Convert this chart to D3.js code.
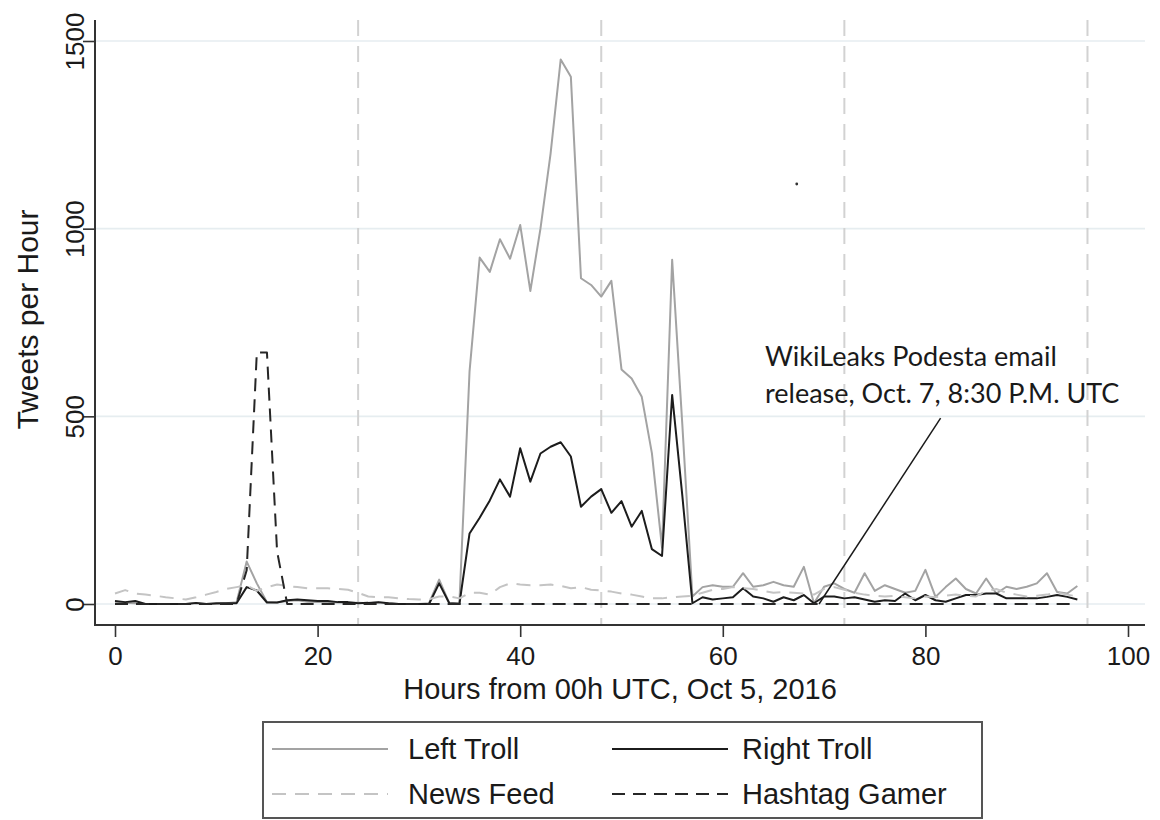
<!DOCTYPE html>
<html>
<head>
<meta charset="utf-8">
<script src="https://cdn.jsdelivr.net/npm/d3@7"></script>
<style>
  html, body { margin: 0; padding: 0; background: #fff; }
  svg { display: block; }
  text { font-family: "Liberation Sans", Arial, sans-serif; fill: #1a1a1a; }
</style>
</head>
<body>
<svg id="chart" width="1160" height="820"></svg>
<script>
// Hourly tweet counts, hour 0 = 00h UTC Oct 5, 2016
const hours = d3.range(0, 96);

const leftTroll = [
  2, 3, 2, 0, 0, 0, 0, 0, 2, 0, 0, 2, 5, 113, 55, 5, 4, 8, 10, 6,
  5, 5, 4, 3, 3, 2, 4, 2, 0, 0, 0, 2, 65, 2, 3, 620, 923, 885, 972, 920,
  1010, 834, 1000, 1200, 1451, 1405, 868, 850, 819, 861, 625, 601, 552, 402, 150, 917, 480, 20, 45, 50,
  46, 46, 82, 46, 50, 59, 50, 46, 99, 2, 46, 55, 40, 30, 82, 35, 50, 40, 30, 35,
  91, 19, 45, 68, 40, 28, 68, 28, 46, 40, 46, 55, 82, 32, 28, 48
];

const rightTroll = [
  8, 5, 8, 0, 0, 0, 0, 0, 3, 0, 2, 2, 2, 45, 36, 4, 4, 10, 12, 10,
  8, 8, 5, 5, 2, 3, 5, 2, 0, 0, 0, 0, 55, 2, 0, 188, 230, 276, 332, 286,
  415, 326, 401, 419, 431, 393, 259, 286, 306, 243, 274, 206, 248, 146, 128, 557, 290, 2, 18, 12,
  15, 18, 42, 20, 15, 6, 18, 10, 24, 2, 20, 20, 15, 18, 12, 6, 10, 8, 28, 10,
  24, 10, 6, 15, 24, 24, 28, 28, 15, 15, 15, 15, 19, 24, 19, 12
];

const newsFeed = [
  28, 37, 28, 25, 22, 18, 15, 12, 18, 25, 32, 40, 45, 50, 35, 45, 52, 48, 45, 42,
  42, 42, 40, 38, 30, 20, 18, 18, 15, 13, 12, 13, 20, 20, 15, 30, 30, 25, 45, 55,
  52, 50, 50, 52, 48, 42, 45, 38, 36, 33, 28, 25, 20, 15, 15, 18, 20, 22, 30, 38,
  40, 45, 42, 40, 35, 30, 32, 30, 28, 25, 40, 45, 38, 30, 25, 22, 20, 22, 18, 15,
  20, 18, 22, 25, 22, 20, 35, 40, 30, 25, 20, 22, 25, 30, 25, 20
];

const hashtagGamer = [
  0, 0, 0, 0, 0, 0, 0, 0, 0, 0, 0, 0, 0, 90, 670, 670, 140, 0, 0, 0,
  0, 0, 0, 0, 0, 0, 0, 0, 0, 0, 0, 0, 0, 0, 0, 0, 0, 0, 0, 0,
  0, 0, 0, 0, 0, 0, 0, 0, 0, 0, 0, 0, 0, 0, 0, 0, 0, 0, 0, 0,
  0, 0, 0, 0, 0, 0, 0, 0, 0, 0, 0, 0, 0, 0, 0, 0, 0, 0, 0, 0,
  0, 0, 0, 0, 0, 0, 0, 0, 0, 0, 0, 0, 0, 0, 0, 0
];

const xTicks = [0, 20, 40, 60, 80, 100];
const yTicks = [0, 500, 1000, 1500];
const dayMarks = [24, 48, 72, 96];

const seriesNames = ["Left Troll", "Right Troll", "News Feed", "Hashtag Gamer"];
const seriesValues = [leftTroll, rightTroll, newsFeed, hashtagGamer];

// Annotation: pointer from label to the release hour (Oct 7, 20:30 UTC)
const noteLines = ["WikiLeaks Podesta email", "release, Oct. 7, 8:30 P.M. UTC"];
const notePointer = [[81.5, 495], [69.5, 0]];
const strayDot = [67.3, 1119];

const styles = [
  { color: "#a3a3a3", dash: null },
  { color: "#1c1c1c", dash: null },
  { color: "#c4c4c4", dash: "14,9" },
  { color: "#262626", dash: "13,8" }
];

const svg = d3.select("#chart");

const x = d3.scaleLinear().domain([0, 100]).range([115, 1128]);
const y = d3.scaleLinear().domain([0, 1500]).range([604, 41]);

const axisLeftX = 95, axisBottomY = 625, plotTop = 20, plotRight = 1145;

// horizontal grid
svg.append("g").selectAll("line").data(yTicks).join("line")
  .attr("x1", axisLeftX).attr("x2", plotRight)
  .attr("y1", d => y(d)).attr("y2", d => y(d))
  .attr("stroke", "#e6edf0").attr("stroke-width", 1.6);

// day boundaries
svg.append("g").selectAll("line").data(dayMarks).join("line")
  .attr("x1", d => x(d)).attr("x2", d => x(d))
  .attr("y1", plotTop).attr("y2", axisBottomY)
  .attr("stroke", "#d2d2d2").attr("stroke-width", 2)
  .attr("stroke-dasharray", "16,10");

// series
const line = d3.line().x((d, i) => x(hours[i])).y(d => y(d));
seriesValues.forEach((vals, k) => {
  svg.append("path").datum(vals)
    .attr("d", line)
    .attr("fill", "none")
    .attr("stroke", styles[k].color)
    .attr("stroke-width", 2)
    .attr("stroke-linejoin", "round")
    .attr("stroke-dasharray", styles[k].dash);
});

// y axis
const yAxis = d3.axisLeft(y).tickValues(yTicks).tickFormat(d3.format("d"))
  .tickSize(12).tickSizeOuter(0).tickPadding(4);
const gy = svg.append("g").attr("transform", `translate(${axisLeftX},0)`).call(yAxis);
gy.select(".domain").remove();
gy.selectAll(".tick line").attr("stroke", "#333").attr("stroke-width", 1.6);
gy.selectAll(".tick text")
  .attr("x", 0).attr("dy", null)
  .attr("text-anchor", "middle")
  .attr("transform", "translate(-11,0) rotate(-90)")
  .attr("y", 0)
  .style("font-size", "26px")
  .attr("fill", "#1a1a1a");
svg.append("line").attr("x1", axisLeftX).attr("x2", axisLeftX)
  .attr("y1", plotTop).attr("y2", axisBottomY + 1)
  .attr("stroke", "#333").attr("stroke-width", 2);

// x axis
const xAxis = d3.axisBottom(x).tickValues(xTicks).tickSize(12).tickSizeOuter(0).tickPadding(10);
const gx = svg.append("g").attr("transform", `translate(0,${axisBottomY})`).call(xAxis);
gx.select(".domain").remove();
gx.selectAll(".tick line").attr("stroke", "#333").attr("stroke-width", 1.6);
gx.selectAll(".tick text").style("font-size", "26px").attr("fill", "#1a1a1a");
svg.append("line").attr("x1", axisLeftX - 1).attr("x2", plotRight)
  .attr("y1", axisBottomY).attr("y2", axisBottomY)
  .attr("stroke", "#333").attr("stroke-width", 2);

// axis titles
svg.append("text")
  .attr("x", (axisLeftX + plotRight) / 2).attr("y", 699)
  .attr("text-anchor", "middle").style("font-size", "29px")
  .text("Hours from 00h UTC, Oct 5, 2016");
svg.append("text")
  .attr("transform", `translate(38,${(plotTop + axisBottomY) / 2 - 3}) rotate(-90)`)
  .attr("text-anchor", "middle").style("font-size", "30px")
  .text("Tweets per Hour");

// annotation
svg.append("line")
  .attr("x1", x(notePointer[0][0])).attr("y1", y(notePointer[0][1]))
  .attr("x2", x(notePointer[1][0])).attr("y2", y(notePointer[1][1]))
  .attr("stroke", "#1a1a1a").attr("stroke-width", 1.5);
svg.append("g").selectAll("text").data(noteLines).join("text")
  .attr("x", 765).attr("y", (d, i) => 366 + i * 37)
  .style("font-family", "Lato, 'Open Sans', sans-serif")
  .style("font-size", "27px")
  .text(d => d);
svg.append("circle")
  .attr("cx", x(strayDot[0])).attr("cy", y(strayDot[1]))
  .attr("r", 1.4).attr("fill", "#333");

// legend
const legend = svg.append("g");
legend.append("rect")
  .attr("x", 263).attr("y", 722).attr("width", 719).attr("height", 96)
  .attr("fill", "#fff").attr("stroke", "#555").attr("stroke-width", 2);
const legPos = [[272, 749], [612, 749], [272, 794], [612, 794]];
seriesNames.forEach((name, k) => {
  const [lx, ly] = legPos[k];
  legend.append("line")
    .attr("x1", lx).attr("x2", lx + 116)
    .attr("y1", ly).attr("y2", ly)
    .attr("stroke", styles[k].color).attr("stroke-width", 2)
    .attr("stroke-dasharray", styles[k].dash);
  legend.append("text")
    .attr("x", lx + (k % 2 === 0 ? 136 : 130)).attr("y", ly + 10)
    .style("font-size", "29px")
    .text(name);
});
</script>
</body>
</html>
